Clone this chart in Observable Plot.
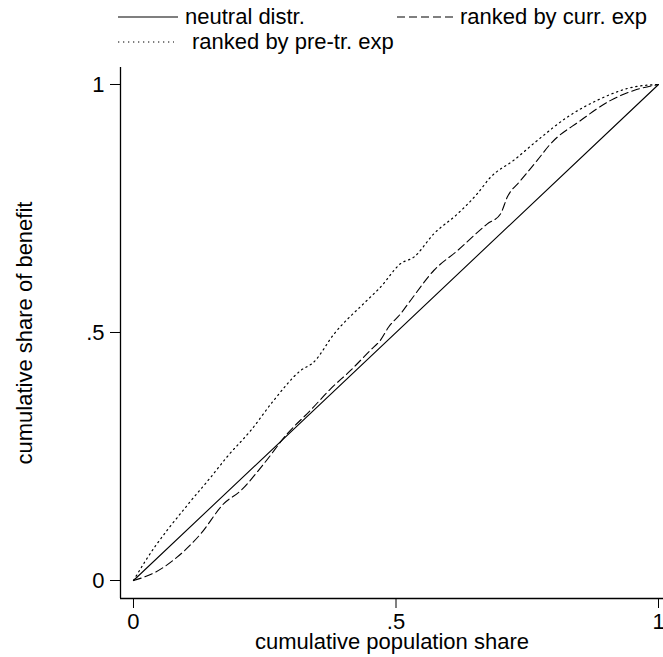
<!DOCTYPE html>
<html>
<head>
<meta charset="utf-8">
<script src="https://cdn.jsdelivr.net/npm/d3@7"></script>
<script src="https://cdn.jsdelivr.net/npm/@observablehq/plot@0.6"></script>
<style>
  html, body { margin: 0; padding: 0; background: #fff; }
  #wrap { width: 663px; font-family: "Liberation Sans", Arial, sans-serif; }
  #legend { position: relative; width: 663px; height: 52px; font-size: 22px; color: #000; }
  .item { position: absolute; display: flex; align-items: center; white-space: nowrap; line-height: 1; }
  .item svg { display: block; }
</style>
</head>
<body>
<div id="wrap">
  <div id="legend"></div>
  <div id="chart"></div>
</div>
<script>
// ---- data ----
const neutralX = [0, 1];
const neutralY = [0, 1];

const preX = [0, 0.023, 0.105, 0.147, 0.178, 0.223, 0.267, 0.318, 0.343, 0.382, 0.445, 0.470, 0.509, 0.534, 0.572, 0.617, 0.655, 0.680, 0.724, 0.769, 0.826, 0.883, 0.953, 1];
const preY = [0, 0.040, 0.155, 0.208, 0.249, 0.302, 0.363, 0.423, 0.440, 0.497, 0.565, 0.591, 0.639, 0.652, 0.699, 0.739, 0.780, 0.813, 0.847, 0.887, 0.934, 0.968, 0.995, 1];

const curX = [0, 0.042, 0.083, 0.128, 0.172, 0.204, 0.248, 0.293, 0.337, 0.375, 0.413, 0.451, 0.470, 0.486, 0.509, 0.528, 0.572, 0.617, 0.674, 0.699, 0.712, 0.737, 0.769, 0.794, 0.851, 0.909, 0.953, 1];
const curY = [0, 0.017, 0.047, 0.094, 0.155, 0.181, 0.235, 0.296, 0.343, 0.386, 0.423, 0.464, 0.484, 0.511, 0.538, 0.565, 0.625, 0.665, 0.719, 0.739, 0.773, 0.806, 0.847, 0.880, 0.927, 0.968, 0.988, 1];

const ticks = [0, 0.5, 1];
const tickLabels = ["0", ".5", "1"];
const xTitle = "cumulative population share";
const yTitle = "cumulative share of benefit";
const seriesNames = ["neutral distr.", "ranked by curr. exp", "ranked by pre-tr. exp"];

const xDomain = [-0.02476, 1.00952];
const yDomain = [-0.03629, 1.03427];

const toRows = (xs, ys) => xs.map((x, i) => ({x, y: ys[i]}));
const neutral = toRows(neutralX, neutralY);
const pre = toRows(preX, preY);
const cur = toRows(curX, curY);

const fmt = d => tickLabels[ticks.indexOf(d)];

const chart = Plot.plot({
  width: 663,
  height: 605,
  marginLeft: 120,
  marginRight: 0,
  marginTop: 15,
  marginBottom: 59,
  style: {fontFamily: '"Liberation Sans", Arial, sans-serif', fontSize: "22px", color: "#000", background: "#fff", overflow: "visible"},
  x: {domain: xDomain},
  y: {domain: yDomain},
  marks: [
    Plot.axisY({ticks, tickFormat: fmt, tickSize: 10, tickPadding: 6, fontSize: 22, stroke: "#000", strokeWidth: 1,
                label: yTitle, labelAnchor: "center", labelOffset: 104, labelArrow: "none"}),
    Plot.axisX({ticks, tickFormat: fmt, tickSize: 10, tickPadding: 5, fontSize: 22, stroke: "#000", strokeWidth: 1,
                label: xTitle, labelAnchor: "center", labelOffset: 50, labelArrow: "none"}),
    Plot.ruleX([xDomain[0]], {stroke: "#000", strokeWidth: 1.3}),
    Plot.ruleY([yDomain[0]], {stroke: "#000", strokeWidth: 1.3}),
    Plot.line(neutral, {x: "x", y: "y", stroke: "#000", strokeWidth: 1.1}),
    Plot.line(cur, {x: "x", y: "y", stroke: "#000", strokeWidth: 1.1, strokeDasharray: "8,4", curve: "monotone-x"}),
    Plot.line(pre, {x: "x", y: "y", stroke: "#000", strokeWidth: 1.2, strokeDasharray: "1.3,3.7", curve: "monotone-x"})
  ]
});
document.getElementById("chart").appendChild(chart);

// ---- legend (HTML above the SVG) ----
const legend = document.getElementById("legend");
const items = [
  {name: seriesNames[0], dash: null, left: 118, top: 17, w: 60, gap: 7},
  {name: seriesNames[1], dash: "8,4", left: 397, top: 17, w: 56, gap: 7},
  {name: seriesNames[2], dash: "1.3,3.7", left: 118, top: 42, w: 56, gap: 18}
];
for (const it of items) {
  const div = document.createElement("div");
  div.className = "item";
  div.style.left = it.left + "px";
  div.style.top = (it.top - 11) + "px";
  div.style.height = "22px";
  const s = `<svg width="${it.w}" height="22"><line x1="0" y1="11" x2="${it.w}" y2="11" stroke="#000" stroke-width="1.1" ${it.dash ? `stroke-dasharray="${it.dash}"` : ""}/></svg>`;
  div.innerHTML = s + `<span style="margin-left:${it.gap}px">${it.name}</span>`;
  legend.appendChild(div);
}
</script>
</body>
</html>
